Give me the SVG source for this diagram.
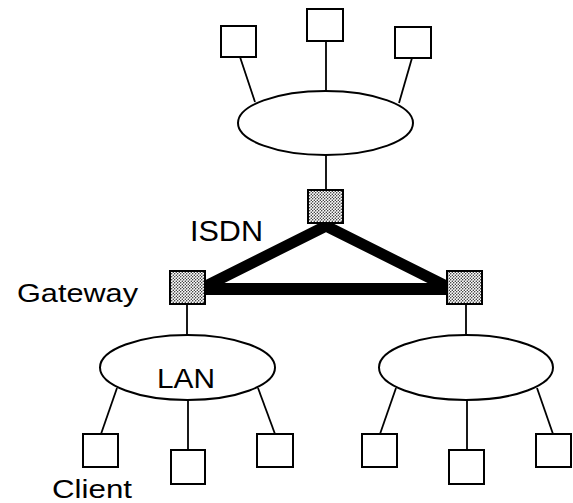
<svg xmlns="http://www.w3.org/2000/svg" width="573" height="503" viewBox="0 0 573 503">
<defs>
<pattern id="stip" width="3" height="3" patternUnits="userSpaceOnUse">
<rect width="3" height="3" fill="#fff"/>
<circle cx="0.75" cy="0.75" r="0.7" fill="#111"/>
<circle cx="2.25" cy="2.25" r="0.7" fill="#111"/>
</pattern>
</defs>
<style>
.ln{stroke:#000;stroke-width:1.8;fill:none}
.box{fill:#fff;stroke:#000;stroke-width:2}
.gw{fill:url(#stip);stroke:#000;stroke-width:2}
.ell{fill:#fff;stroke:#000;stroke-width:2}
.isdn{stroke:#000;fill:none;stroke-linecap:butt}
.t{font-family:"Liberation Sans",Arial,sans-serif;fill:#000}
</style>
<rect width="573" height="503" fill="#fff"/>
<g id="connectors">
<line class="ln" x1="240" y1="57" x2="255" y2="102"/>
<line class="ln" x1="326" y1="41" x2="326" y2="91"/>
<line class="ln" x1="412" y1="58" x2="399" y2="103"/>
<line class="ln" x1="326" y1="155" x2="326" y2="190"/>
<line class="ln" x1="187" y1="304" x2="187" y2="335"/>
<line class="ln" x1="466" y1="304" x2="466" y2="336"/>
<line class="ln" x1="117" y1="388" x2="101" y2="434"/>
<line class="ln" x1="188" y1="400" x2="188" y2="450"/>
<line class="ln" x1="258" y1="388" x2="275" y2="434"/>
<line class="ln" x1="396" y1="388" x2="380" y2="434"/>
<line class="ln" x1="467" y1="400" x2="467" y2="450"/>
<line class="ln" x1="537" y1="388" x2="553" y2="434"/>
<polyline class="isdn" stroke-width="11" stroke-linejoin="miter" points="204,287 326,226 448,287"/>
<line class="isdn" stroke-width="12" x1="204" y1="289" x2="448" y2="289"/>
</g>
<g id="host-top-left"><rect class="box" x="221" y="26" width="35" height="31"/></g>
<g id="host-top-mid"><rect class="box" x="307" y="9" width="36" height="32"/></g>
<g id="host-top-right"><rect class="box" x="395" y="27" width="36" height="31"/></g>
<g id="lan-top"><ellipse class="ell" cx="325.5" cy="123" rx="87.5" ry="32"/></g>
<g id="gw-top"><rect class="gw" x="308" y="190" width="35" height="33"/></g>
<g id="gw-left"><rect class="gw" x="170" y="271" width="35" height="33"/></g>
<g id="gw-right"><rect class="gw" x="447" y="271" width="35" height="33"/></g>
<g id="lan-left"><ellipse class="ell" cx="187.5" cy="367.5" rx="87.5" ry="32.5"/>
<text class="t" x="157" y="388" font-size="28" textLength="58" lengthAdjust="spacingAndGlyphs">LAN</text></g>
<g id="lan-right"><ellipse class="ell" cx="466" cy="367.5" rx="87" ry="32.5"/></g>
<g id="client-l1"><rect class="box" x="83" y="434" width="35" height="33"/></g>
<g id="client-l2"><rect class="box" x="171" y="450" width="34" height="34"/></g>
<g id="client-l3"><rect class="box" x="257" y="434" width="36" height="33"/></g>
<g id="client-r1"><rect class="box" x="362" y="434" width="35" height="33"/></g>
<g id="client-r2"><rect class="box" x="449" y="450" width="35" height="34"/></g>
<g id="client-r3"><rect class="box" x="536" y="434" width="35" height="33"/></g>
<g id="labels">
<text class="t" x="190" y="241" font-size="30" textLength="73" lengthAdjust="spacingAndGlyphs">ISDN</text>
<text class="t" x="17" y="302" font-size="26" textLength="121" lengthAdjust="spacingAndGlyphs">Gateway</text>
<text class="t" x="52" y="498" font-size="26" textLength="80" lengthAdjust="spacingAndGlyphs">Client</text>
</g>
</svg>
